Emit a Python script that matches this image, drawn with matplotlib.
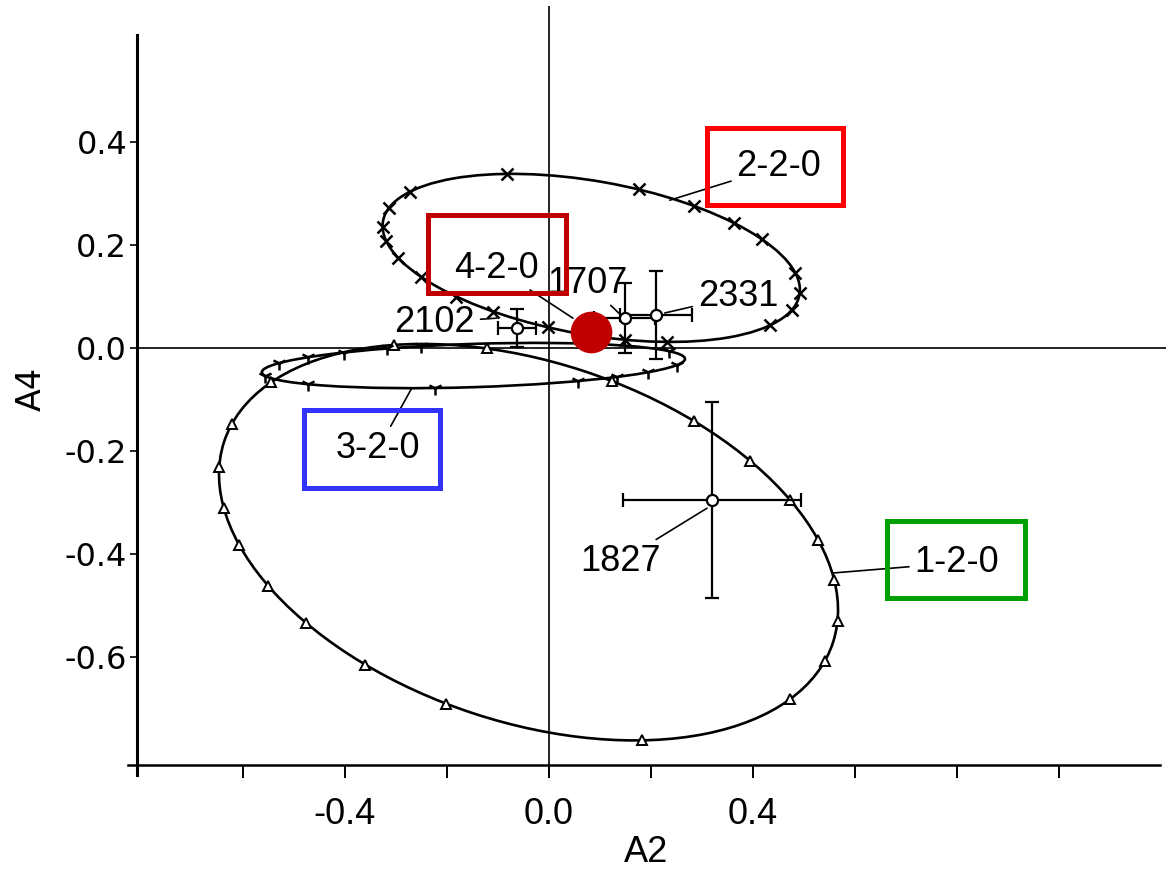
import matplotlib
matplotlib.use("Agg")
import numpy as np
import matplotlib.pyplot as plt
from matplotlib.patches import Ellipse, Rectangle

# fitted ellipses (center, full width, full height, rotation in degrees)
ellipse_names = ["1-2-0", "2-2-0", "3-2-0"]
ellipse_centers = [(-0.04, -0.377), (0.083, 0.175), (-0.148, -0.034)]
ellipse_widths = [1.256, 0.829, 0.830]
ellipse_heights = [0.699, 0.298, 0.084]
ellipse_angles = [-18.0, -9.9, 1.8]

# sample points marked along each ellipse (A2, A4)
marks_120 = [(-0.543, -0.068), (-0.618, -0.150), (-0.649, -0.231), (-0.641, -0.311),
             (-0.600, -0.383), (-0.543, -0.460), (-0.469, -0.532), (-0.357, -0.612),
             (-0.200, -0.689), (0.184, -0.765), (0.473, -0.683), (0.535, -0.606),
             (0.561, -0.528), (0.551, -0.450), (0.522, -0.373), (0.473, -0.295),
             (0.384, -0.223), (0.280, -0.146), (0.125, -0.062), (-0.12, -0.01),
             (-0.30, 0.0)]
marks_220 = [(-0.273, 0.303), (-0.310, 0.272), (-0.322, 0.235), (-0.306, 0.206),
             (-0.282, 0.175), (-0.247, 0.138), (-0.184, 0.099), (-0.110, 0.070),
             (-0.002, 0.039), (0.153, 0.006), (0.237, 0.006), (0.433, 0.045),
             (0.478, 0.074), (0.486, 0.107), (0.476, 0.146), (0.408, 0.210),
             (0.349, 0.239), (0.276, 0.272), (0.173, 0.303), (-0.080, 0.336)]
marks_320 = [(-0.508, -0.052), (-0.435, -0.066), (-0.214, -0.072), (0.041, -0.062),
             (0.133, -0.056), (0.194, -0.047), (0.237, -0.033), (0.263, -0.004),
             (-0.537, -0.029), (-0.488, -0.017), (-0.410, -0.008), (-0.322, 0.0),
             (-0.253, 0.004)]

# measured points with errors
point_labels = ["1827", "2331", "1707", "2102"]
point_x = [0.320, 0.210, 0.149, -0.063]
point_y = [-0.295, 0.064, 0.058, 0.039]
point_xerr = [0.175, 0.07, 0.06, 0.037]
point_yerr = [0.19, 0.085, 0.068, 0.037]

highlight = (0.082, 0.031)

xtick_values = [-0.6, -0.4, -0.2, 0.0, 0.2, 0.4, 0.6, 0.8, 1.0]
xtick_labels = ["", "-0.4", "", "0.0", "", "0.4", "", "", ""]
ytick_values = [0.4, 0.2, 0.0, -0.2, -0.4, -0.6]
ytick_labels = ["0.4", "0.2", "0.0", "-0.2", "-0.4", "-0.6"]

# annotation layout: label text spot, leader target, box (x0, y0, x1, y1), colour
label_text_pos = {"1827": (0.141, -0.414), "2331": (0.371, 0.101), "1707": (0.076, 0.126),
                  "2102": (-0.224, 0.050), "4-2-0": (-0.102, 0.155), "2-2-0": (0.451, 0.353),
                  "3-2-0": (-0.335, -0.196), "1-2-0": (0.800, -0.417)}
label_target = {"1827": (0.310, -0.311), "2331": (0.227, 0.068), "1707": (0.141, 0.064),
                "2102": (-0.102, 0.058), "4-2-0": (0.047, 0.058), "2-2-0": (0.237, 0.287),
                "3-2-0": (-0.269, -0.078), "1-2-0": (0.555, -0.437)}
boxes = {"2-2-0": ((0.310, 0.278, 0.576, 0.427), "#ff0000"),
         "4-2-0": ((-0.237, 0.107, 0.033, 0.258), "#c00000"),
         "3-2-0": ((-0.480, -0.272, -0.214, -0.120), "#3333ff"),
         "1-2-0": ((0.663, -0.485, 0.933, -0.336), "#00a000")}

label_font = ["Liberation Sans Narrow", "Liberation Sans", "DejaVu Sans"]

fig = plt.figure(figsize=(11.71, 8.69), dpi=100)
ax = fig.add_axes([0.1073, 0.1076, 0.8884, 0.889])
ax.set_xlim(-0.83, 1.21)
ax.set_ylim(-0.83, 0.67)

ax.spines["top"].set_visible(False)
ax.spines["right"].set_visible(False)
ax.spines["left"].set_position(("data", -0.808))
ax.spines["left"].set_bounds(-0.83, 0.608)
ax.spines["left"].set_linewidth(2.2)
ax.spines["bottom"].set_position(("data", -0.81))
ax.spines["bottom"].set_bounds(-0.825, 1.198)
ax.spines["bottom"].set_linewidth(1.8)

ax.hlines(0, -0.808, 1.21, color="black", lw=1.2)
ax.vlines(0, -0.81, 0.665, color="black", lw=1.2)

marker_sets = [marks_120, marks_220, marks_320]
marker_styles = [dict(marker="^", ms=7, mfc="white", mec="black", mew=1.4),
                 dict(marker="x", ms=8, mec="black", mew=1.8),
                 dict(marker="1", ms=10, mec="black", mew=1.8)]

for i, name in enumerate(ellipse_names):
    e = Ellipse(ellipse_centers[i], ellipse_widths[i], ellipse_heights[i],
                angle=ellipse_angles[i], fill=False, ec="black", lw=1.9, zorder=2)
    ax.add_patch(e)
    # put the marks right on the drawn curve
    tr = e.get_patch_transform()
    u = tr.inverted().transform(np.array(marker_sets[i]))
    u = u / np.linalg.norm(u, axis=1, keepdims=True)
    p = tr.transform(u)
    ax.plot(p[:, 0], p[:, 1], ls="none", zorder=3, **marker_styles[i])

ax.errorbar(point_x, point_y, xerr=point_xerr, yerr=point_yerr, fmt="o", ms=8,
            mfc="white", mec="black", mew=1.6, ecolor="black", elinewidth=1.6,
            capsize=5, capthick=1.6, zorder=4)

ax.plot(*highlight, "o", ms=29, color="#c00000", zorder=6)

for name, (x, y) in label_text_pos.items():
    ax.annotate(name, xy=label_target[name], xytext=(x, y), ha="center", va="center",
                fontsize=26, family=label_font, zorder=5,
                arrowprops=dict(arrowstyle="-", color="black", lw=1.2,
                                shrinkA=2, shrinkB=0))

for name, ((x0, y0, x1, y1), c) in boxes.items():
    ax.add_patch(Rectangle((x0, y0), x1 - x0, y1 - y0, fill=False, ec=c, lw=3.6, zorder=7))

ax.set_xticks(xtick_values, labels=xtick_labels)
ax.set_yticks(ytick_values, labels=ytick_labels)
ax.tick_params(axis="x", direction="out", length=9, width=1.4, pad=14, labelsize=26)
ax.tick_params(axis="y", direction="out", length=5, width=1.2, pad=2, labelsize=23)
for t in ax.get_xticklabels():
    t.set_family(label_font)

ax.set_xlabel("A2", fontsize=26, family=label_font, labelpad=2)
ax.set_ylabel("A4", fontsize=24, labelpad=12)

fig.savefig("out.png", dpi=100, facecolor="white")
